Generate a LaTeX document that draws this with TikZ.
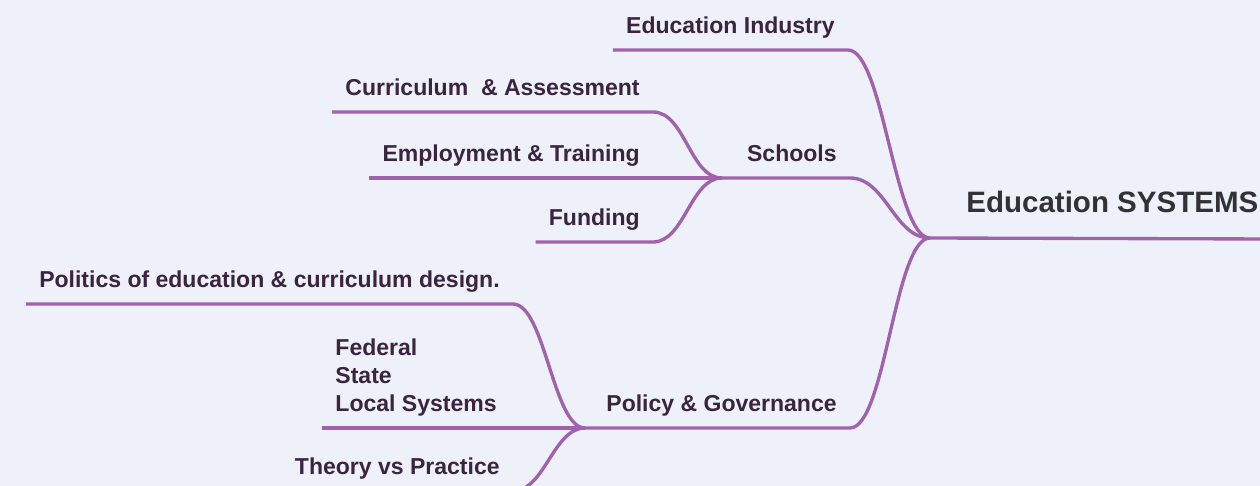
\documentclass[tikz,border=0pt]{standalone}
\usepackage{fontspec}
\setmainfont{Liberation Sans}
\definecolor{paper}{RGB}{238,241,249}
\definecolor{twig}{RGB}{160,98,172}
\definecolor{ink}{RGB}{58,36,62}
\definecolor{rootink}{RGB}{50,50,52}

\begin{document}
\begin{tikzpicture}
  [x=0.02cm,y=-0.02cm,
   every node/.style={font=\fontsize{13.1}{15.9}\selectfont\bfseries,text=ink,
     inner xsep=7.4pt,inner ysep=9.07pt,text depth=0pt,anchor=south east},
   branch/.style={draw=twig,line width=1.9pt,out=0,in=180,looseness=#1}]
  \useasboundingbox (0,0) rectangle (1260,486);
  \fill[paper] (0,0) rectangle (1260,486);
  \clip (0,0) rectangle (1260,486);
  \coordinate (hub) at (930,238);
  \coordinate (sj) at (722,178);
  \coordinate (pj) at (585,428);
  \node[font=\fontsize{16.8}{20}\selectfont\bfseries,text=rootink,
    inner ysep=14.7pt,anchor=south west] (root) at (953,239) {Education SYSTEMS};
  \node (ind) at (848,50) {Education Industry};
  \node (sch) at (850,178) {Schools};
  \node (pol) at (850,428) {Policy \& Governance};
  \node (cur) at (653,112) {Curriculum~~\& Assessment};
  \node (emp) at (653,178) {Employment \& Training};
  \node (fun) at (653,242) {Funding};
  \node (pod) at (513,304) {Politics of education \& curriculum design.};
  \node[align=left] (fed) at (510,428) {Federal\\State\\Local Systems};
  \node (thy) at (513,491) {Theory vs Practice};
  \foreach \from/\via/\to/\l in {ind.south west/ind/hub/0.44,sj/sch/hub/0.92,
      pj/pol/hub/0.44,cur.south west/cur/sj/0.86,emp.south west/emp/sj/1,
      fun.south west/fun/sj/0.86,pod.south west/pod/pj/0.57,
      fed.south west/fed/pj/1,thy.south west/thy/pj/0.85}
    \draw[branch=\l] (\from) -- (\via.south east) to (\to);
  \draw[branch=1] (hub) -- (root.south east);
\end{tikzpicture}
\end{document}
